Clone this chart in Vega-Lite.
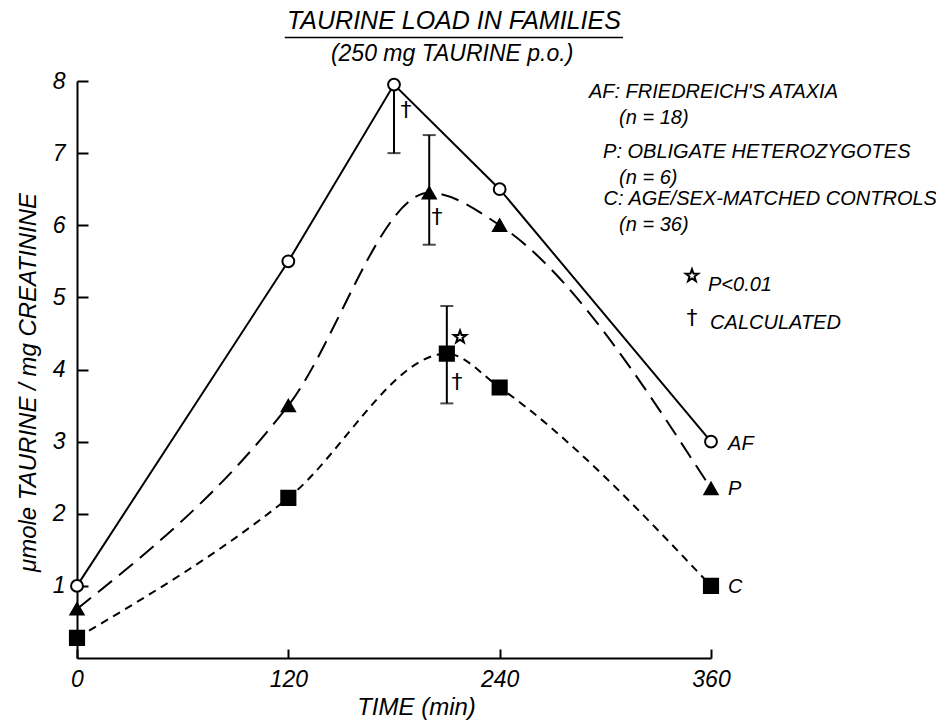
{
  "$schema": "https://vega.github.io/schema/vega-lite/v6.json",
  "width": 634,
  "height": 577,
  "autosize": "none",
  "padding": {"left": 77, "top": 81, "right": 225, "bottom": 64},
  "background": "white",
  "config": {
    "view": {"stroke": null},
    "font": "Liberation Sans",
    "axis": {
      "grid": false,
      "domainColor": "black",
      "domainWidth": 2,
      "tickColor": "black",
      "tickWidth": 2,
      "labelFlush": false,
      "labelFont": "Liberation Sans",
      "labelFontStyle": "italic",
      "labelFontSize": 23,
      "labelColor": "black",
      "titleFont": "Liberation Sans",
      "titleFontStyle": "italic",
      "titleFontWeight": "normal",
      "titleFontSize": 24,
      "titleColor": "black"
    }
  },
  "datasets": {
    "series": [
      {"group": "AF", "t": 0, "v": 1.0},
      {"group": "AF", "t": 120, "v": 5.5},
      {"group": "AF", "t": 180, "v": 7.95},
      {"group": "AF", "t": 240, "v": 6.5},
      {"group": "AF", "t": 360, "v": 3.0},
      {"group": "P", "t": 0, "v": 0.68},
      {"group": "P", "t": 120, "v": 3.5},
      {"group": "P", "t": 200, "v": 6.45},
      {"group": "P", "t": 240, "v": 6.0},
      {"group": "P", "t": 360, "v": 2.35},
      {"group": "C", "t": 0, "v": 0.28},
      {"group": "C", "t": 120, "v": 2.22},
      {"group": "C", "t": 210, "v": 4.22},
      {"group": "C", "t": 240, "v": 3.75},
      {"group": "C", "t": 360, "v": 1.0}
    ],
    "errors": [
      {"group": "AF", "t": 180, "lo": 7.0, "hi": 7.95},
      {"group": "P", "t": 200, "lo": 5.73, "hi": 7.25},
      {"group": "C", "t": 210, "lo": 3.53, "hi": 4.88}
    ],
    "caps": [
      {"t": 180, "v": 7.0},
      {"t": 200, "v": 5.73},
      {"t": 200, "v": 7.25},
      {"t": 210, "v": 3.53},
      {"t": 210, "v": 4.88}
    ],
    "underline": [
      {"x1": 118, "x2": 310, "y": 8.603}
    ],
    "titles": [
      {"label": "TAURINE LOAD IN FAMILIES", "t": 214, "v": 8.83}
    ],
    "subtitles": [
      {"label": "(250 mg TAURINE p.o.)", "t": 213, "v": 8.38}
    ],
    "notes": [
      {"label": "AF: FRIEDREICH'S ATAXIA", "t": 290.7, "v": 7.85},
      {"label": "(n = 18)", "t": 307.8, "v": 7.49},
      {"label": "P: OBLIGATE HETEROZYGOTES", "t": 298.7, "v": 7.02},
      {"label": "(n = 6)", "t": 307.8, "v": 6.66},
      {"label": "C: AGE/SEX-MATCHED CONTROLS", "t": 299, "v": 6.37},
      {"label": "(n = 36)", "t": 307.8, "v": 6.0},
      {"label": "P<0.01", "t": 358.3, "v": 5.17},
      {"label": "CALCULATED", "t": 359.5, "v": 4.64},
      {"label": "AF", "t": 369.7, "v": 2.97},
      {"label": "P", "t": 369.7, "v": 2.35},
      {"label": "C", "t": 369.7, "v": 0.99}
    ],
    "daggers": [
      {"label": "†", "t": 349.2, "v": 4.71},
      {"label": "†", "t": 186.8, "v": 7.6},
      {"label": "†", "t": 204.4, "v": 6.11},
      {"label": "†", "t": 215.8, "v": 3.82}
    ],
    "stars": [
      {"t": 349.2, "v": 5.3},
      {"t": 217.5, "v": 4.45}
    ]
  },
  "layer": [
    {
      "data": {"name": "underline"},
      "mark": {"type": "rule", "color": "black", "strokeWidth": 1.5},
      "encoding": {
        "x": {"field": "x1", "type": "quantitative", "scale": {"domain": [0, 360], "nice": false}},
        "x2": {"field": "x2"},
        "y": {"field": "y", "type": "quantitative", "scale": {"domain": [0, 8], "nice": false}}
      }
    },
    {
      "data": {"name": "titles"},
      "mark": {"type": "text", "align": "center", "baseline": "middle", "font": "Liberation Sans", "fontStyle": "italic", "fontSize": 25, "color": "black"},
      "encoding": {
        "x": {"field": "t", "type": "quantitative"},
        "y": {"field": "v", "type": "quantitative"},
        "text": {"field": "label"}
      }
    },
    {
      "data": {"name": "subtitles"},
      "mark": {"type": "text", "align": "center", "baseline": "middle", "font": "Liberation Sans", "fontStyle": "italic", "fontSize": 23, "color": "black"},
      "encoding": {
        "x": {"field": "t", "type": "quantitative"},
        "y": {"field": "v", "type": "quantitative"},
        "text": {"field": "label"}
      }
    },
    {
      "data": {"name": "series"},
      "transform": [{"filter": "datum.group === 'AF'"}],
      "mark": {"type": "line", "color": "black", "strokeWidth": 2, "interpolate": "linear"},
      "encoding": {
        "x": {"field": "t", "type": "quantitative"},
        "y": {"field": "v", "type": "quantitative"}
      }
    },
    {
      "data": {"name": "series"},
      "transform": [{"filter": "datum.group === 'P'"}],
      "mark": {"type": "line", "color": "black", "strokeWidth": 2, "interpolate": "monotone", "strokeDash": [18, 9]},
      "encoding": {
        "x": {"field": "t", "type": "quantitative"},
        "y": {"field": "v", "type": "quantitative"}
      }
    },
    {
      "data": {"name": "series"},
      "transform": [{"filter": "datum.group === 'C'"}],
      "mark": {"type": "line", "color": "black", "strokeWidth": 2, "interpolate": "monotone", "strokeDash": [8, 6]},
      "encoding": {
        "x": {"field": "t", "type": "quantitative"},
        "y": {"field": "v", "type": "quantitative"}
      }
    },
    {
      "data": {"name": "errors"},
      "mark": {"type": "rule", "color": "black", "strokeWidth": 2},
      "encoding": {
        "x": {"field": "t", "type": "quantitative"},
        "y": {"field": "lo", "type": "quantitative"},
        "y2": {"field": "hi"}
      }
    },
    {
      "data": {"name": "caps"},
      "mark": {"type": "tick", "orient": "horizontal", "color": "black", "thickness": 2, "size": 13},
      "encoding": {
        "x": {"field": "t", "type": "quantitative"},
        "y": {"field": "v", "type": "quantitative"}
      }
    },
    {
      "data": {"name": "series"},
      "mark": {"type": "point", "filled": true, "stroke": "black", "strokeWidth": 2, "opacity": 1},
      "encoding": {
        "x": {"field": "t", "type": "quantitative", "axis": {"values": [0, 120, 240, 360], "tickSize": -9, "labelPadding": 19, "title": "TIME (min)", "titlePadding": 4, "titleX": 339}},
        "y": {"field": "v", "type": "quantitative", "axis": {"values": [1, 2, 3, 4, 5, 6, 7, 8], "format": "d", "tickSize": -11, "labelPadding": 23, "title": "μmole TAURINE / mg CREATININE", "titlePadding": 12, "titleY": 301}},
        "shape": {"field": "group", "type": "nominal", "scale": {"domain": ["AF", "P", "C"], "range": ["circle", "triangle-up", "square"]}, "legend": null},
        "fill": {"field": "group", "type": "nominal", "scale": {"domain": ["AF", "P", "C"], "range": ["white", "black", "black"]}, "legend": null},
        "size": {"field": "group", "type": "nominal", "scale": {"domain": ["AF", "P", "C"], "range": [140, 200, 190]}, "legend": null}
      }
    },
    {
      "data": {"name": "notes"},
      "mark": {"type": "text", "align": "left", "baseline": "middle", "font": "Liberation Sans", "fontStyle": "italic", "fontSize": 20, "color": "black"},
      "encoding": {
        "x": {"field": "t", "type": "quantitative"},
        "y": {"field": "v", "type": "quantitative"},
        "text": {"field": "label"}
      }
    },
    {
      "data": {"name": "daggers"},
      "mark": {"type": "text", "align": "center", "baseline": "middle", "font": "DejaVu Sans", "fontSize": 22, "fill": "black"},
      "encoding": {
        "x": {"field": "t", "type": "quantitative"},
        "y": {"field": "v", "type": "quantitative"},
        "text": {"field": "label"}
      }
    },
    {
      "data": {"name": "stars"},
      "mark": {"type": "point", "shape": "M0,-1L0.235,-0.324L0.951,-0.309L0.38,0.124L0.588,0.809L0,0.4L-0.588,0.809L-0.38,0.124L-0.951,-0.309L-0.235,-0.324Z", "size": 170, "filled": true, "fill": "white", "stroke": "black", "strokeWidth": 2, "opacity": 1},
      "encoding": {
        "x": {"field": "t", "type": "quantitative"},
        "y": {"field": "v", "type": "quantitative"}
      }
    }
  ]
}
